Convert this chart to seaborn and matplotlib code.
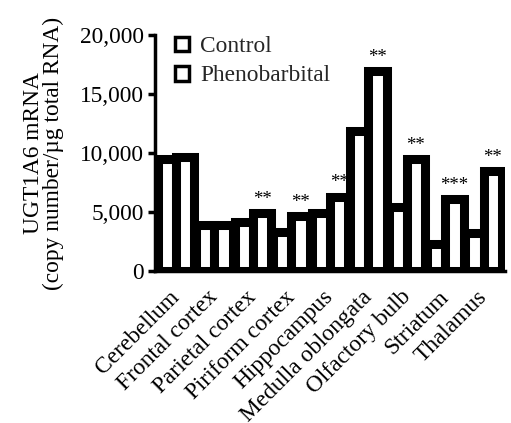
import matplotlib
matplotlib.use("Agg")
import matplotlib.pyplot as plt
import matplotlib.transforms as mtransforms
import seaborn as sns
import pandas as pd
from matplotlib.patches import Patch
from matplotlib.ticker import FuncFormatter

regions = ["Cerebellum", "Frontal cortex", "Parietal cortex", "Piriform cortex",
           "Hippocampus", "Medulla oblongata", "Olfactory bulb", "Striatum", "Thalamus"]
control = [9500, 3900, 4200, 3300, 4900, 11900, 5400, 2300, 3200]
phenobarbital = [9650, 3950, 4900, 4650, 6300, 16950, 9500, 6100, 8500]
signif = ["", "", "**", "**", "**", "**", "**", "***", "**"]
groups = ["Control", "Phenobarbital"]

df = pd.DataFrame({
    "region": regions * 2,
    "group": [groups[0]] * len(regions) + [groups[1]] * len(regions),
    "value": control + phenobarbital,
})

sns.set_theme(style="white")
plt.rcParams["font.family"] = ["Liberation Serif", "DejaVu Serif"]

FS = 16.8
fig = plt.figure(figsize=(5.11, 4.23), dpi=100)
ax = fig.add_axes([0.303, 0.359, 0.685, 0.558])

sns.barplot(data=df, x="region", y="value", hue="group", order=regions,
            hue_order=groups, palette=["white", "white"], edgecolor="black",
            linewidth=6.5, width=0.95, errorbar=None, legend=False, ax=ax)

ax.set_xlim(-0.55, 8.55)
ax.set_ylim(0, 20000)
ax.set_yticks([0, 5000, 10000, 15000, 20000])
ax.yaxis.set_major_formatter(FuncFormatter(lambda v, p: f"{int(v):,}"))
ax.tick_params(axis="y", which="major", left=True, length=5, width=2.5,
               labelsize=FS, pad=3, color="black", labelcolor="black")
ax.tick_params(axis="x", bottom=False, labelsize=FS, pad=5, labelcolor="black")
ax.set_xticks(range(len(regions)))
ax.set_xticklabels(regions, rotation=45, ha="right", rotation_mode="anchor")
shift = mtransforms.ScaledTranslation(-7 / 100, 0, fig.dpi_scale_trans)
for lab in ax.get_xticklabels():
    lab.set_transform(lab.get_transform() + shift)

for s in ["top", "right"]:
    ax.spines[s].set_visible(False)
for s in ["left", "bottom"]:
    ax.spines[s].set_color("black")
    ax.spines[s].set_linewidth(2.5)

ax.set_xlabel("")
ax.set_ylabel("UGT1A6 mRNA\n(copy number/µg total RNA)", fontsize=FS,
              color="black", labelpad=11, linespacing=0.95)

bw = 0.95 / 2
for i, (v, s) in enumerate(zip(phenobarbital, signif)):
    if s:
        ax.text(i + bw / 2, v + 450, s, ha="center", va="bottom", fontsize=13.5,
                color="black")

handles = [Patch(facecolor="white", edgecolor="black", linewidth=2.5, label=g) for g in groups]
ax.legend(handles=handles, loc="upper left", bbox_to_anchor=(0.03, 1.035),
          frameon=False, fontsize=FS, handlelength=0.6, handleheight=0.6,
          handletextpad=0.5, labelspacing=0.35, borderaxespad=0)

fig.savefig("out.png", dpi=100)
